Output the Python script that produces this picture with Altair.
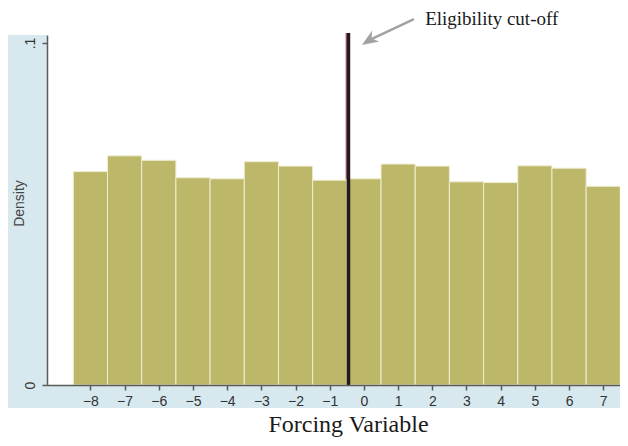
import altair as alt
import pandas as pd

# ---- data ----
bin_centers = [-8, -7, -6, -5, -4, -3, -2, -1, 0, 1, 2, 3, 4, 5, 6, 7]
densities = [0.0624, 0.0670, 0.0657, 0.0606, 0.0603, 0.0653, 0.0640, 0.0599,
             0.0603, 0.0646, 0.0640, 0.0594, 0.0592, 0.0641, 0.0634, 0.0581]
x_ticks = list(range(-8, 8))
y_ticks = [0, 0.1]
cutoff = -0.5
cutoff_top = 0.1029
annotation_text = ["Eligibility cut-off"]
annotation_pos = [1.79, 0.10526]
arrow_x = [1.463, 0.187]
arrow_y = [0.1070, 0.1010]
arrow_tip = [-0.0585, 0.0994]

BLUE = "#d7e9ee"
BAR = "#bdb869"
W, H = 573, 350

bars_df = pd.DataFrame({"center": bin_centers, "density": densities})
bars_df["start"] = bars_df["center"] - 0.5
bars_df["end"] = bars_df["center"] + 0.5
bars_df["zero"] = 0.0

xscale = alt.Scale(domain=[-9.27, 7.49], nice=False, zero=False)
yscale = alt.Scale(domain=[0, 0.10234], nice=False, zero=False)

x_axis = alt.Axis(
    values=x_ticks,
    format="d",
    grid=False,
    zindex=1,
    domainColor="#5a5a5a",
    domainWidth=1.5,
    tickColor="#5a5a5a",
    tickWidth=1.5,
    tickSize=5,
    labelFont="Liberation Sans",
    labelFontSize=14,
    labelColor="#333333",
    labelPadding=4,
    labelFlush=False,
    labelOverlap=False,
    titleFont="Liberation Serif",
    titleFontSize=24,
    titleFontWeight="normal",
    titleColor="#1a1a1a",
    titleX=301,
    titleY=46,
    titleAlign="center",
    titleBaseline="alphabetic",
)
y_axis = alt.Axis(
    values=y_ticks,
    labelExpr="datum.value == 0 ? '0' : '.1'",
    grid=False,
    zindex=1,
    domainColor="#5a5a5a",
    domainWidth=1.5,
    tickColor="#5a5a5a",
    tickWidth=1.5,
    tickSize=5,
    labelFont="Liberation Sans",
    labelFontSize=14,
    labelColor="#333333",
    labelAngle=-90,
    labelAlign="center",
    labelBaseline="bottom",
    labelPadding=5,
    labelFlush=False,
    labelOverlap=False,
    titleFont="Liberation Sans",
    titleFontSize=14,
    titleFontWeight="normal",
    titleColor="#444444",
    titleAngle=-90,
    titleX=-24,
    titleY=168,
    titleAlign="center",
    titleBaseline="alphabetic",
)
XT = "Forcing Variable"
YT = "Density"


def X(field):
    return alt.X(field, scale=xscale, axis=x_axis, title=XT)


def Y(field):
    return alt.Y(field, scale=yscale, axis=y_axis, title=YT)


one = pd.DataFrame({"k": [0]})

bg_left = alt.Chart(one).mark_rect(color=BLUE).encode(
    x=alt.value(-45), x2=alt.value(0), y=alt.value(0), y2=alt.value(373)
)
bg_bottom = alt.Chart(one).mark_rect(color=BLUE).encode(
    x=alt.value(-45), x2=alt.value(W + 20), y=alt.value(H), y2=alt.value(373)
)

rule_df = pd.DataFrame({"x": [cutoff], "top": [cutoff_top], "zero": [0.0]})
pink_rule = alt.Chart(rule_df).mark_rule(color="#c8627e", strokeWidth=1.3, xOffset=-0.6).encode(
    x=X("x:Q"), y=Y("top:Q"), y2="zero:Q",
)

bars = alt.Chart(bars_df).mark_rect(color=BAR, stroke="#efedd2", strokeWidth=1).encode(
    x=X("start:Q"), x2="end:Q", y=Y("density:Q"), y2="zero:Q",
)

dark_rule = alt.Chart(rule_df).mark_rule(color="#231a1d", strokeWidth=3.6, xOffset=1.6).encode(
    x=X("x:Q"), y=Y("top:Q"), y2="zero:Q",
)

arrow_df = pd.DataFrame({"x": arrow_x, "y": arrow_y, "o": [0, 1]})
arrow_line = alt.Chart(arrow_df).mark_line(color="#a2a2a2", strokeWidth=2.6).encode(
    x=X("x:Q"), y=Y("y:Q"), order="o:Q",
)

tip_df = pd.DataFrame({"x": [arrow_tip[0]], "y": [arrow_tip[1]]})
arrow_head = alt.Chart(tip_df).mark_point(
    shape="M 0 0 L 0.6 1.5 L 0 1.05 L -0.6 1.5 Z",
    filled=True,
    color="#a2a2a2",
    opacity=1,
    size=480,
    angle=237,
).encode(x=X("x:Q"), y=Y("y:Q"))

text_df = pd.DataFrame({"x": [annotation_pos[0]], "y": [annotation_pos[1]], "t": annotation_text})
label = alt.Chart(text_df).mark_text(
    font="Liberation Serif", fontSize=19, color="#1a1a1a", align="left", baseline="alphabetic"
).encode(x=X("x:Q"), y=Y("y:Q"), text="t:N")

chart = alt.layer(
    bg_left, bg_bottom, pink_rule, bars, dark_rule, arrow_line, arrow_head, label
).properties(
    width=W,
    height=H,
    autosize=alt.AutoSizeParams(type="none"),
    padding={"left": 39, "top": 27, "right": 0, "bottom": 53},
    background="white",
).configure_view(stroke=None)

chart.save("out.html", embed_options={"renderer": "svg", "actions": False})
